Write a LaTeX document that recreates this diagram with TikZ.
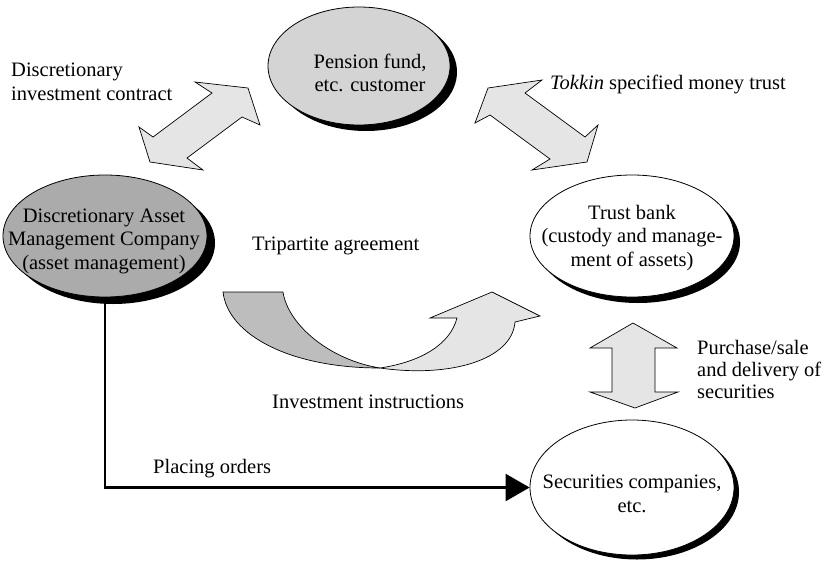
\documentclass[tikz,border=0pt]{standalone}
\usepackage{fontspec}
\setmainfont{Liberation Serif}
\usetikzlibrary{shapes.geometric,arrows.meta}
\definecolor{arrowfill}{gray}{0.90}
\definecolor{darkpart}{gray}{0.74}
\definecolor{pfill}{gray}{0.83}
\definecolor{dfill}{gray}{0.67}
\tikzset{
  ell/.style={ellipse, draw=black, line width=0.8pt, inner sep=0pt},
  shadowell/.style={ellipse, fill=black, draw=none, inner sep=0pt},
  lbl/.style={inner sep=0pt, font=\fontsize{20.5}{23.5}\selectfont},
  blockarrow/.style={draw=black, line width=0.7pt, fill=arrowfill, line join=miter},
  orderline/.style={line width=2.4pt, -{Triangle[length=24pt,width=27pt]}},
}
\begin{document}
\begin{tikzpicture}[x=1pt,y=-1pt]
\useasboundingbox (0,0) rectangle (826,562);
% shadows
\node[shadowell, minimum width=182pt, minimum height=118pt] at (366,72) {};
\node[shadowell, minimum width=204pt, minimum height=122pt] at (113,243) {};
\node[shadowell, minimum width=204pt, minimum height=122pt] at (638,242) {};
\node[shadowell, minimum width=204pt, minimum height=135pt] at (637,492) {};
% ellipses
\node[ell, fill=pfill, minimum width=182pt, minimum height=118pt] (pf) at (359,66) {};
\node[ell, fill=dfill, minimum width=204pt, minimum height=122pt] (dam) at (105,236) {};
\node[ell, fill=white, minimum width=204pt, minimum height=122pt] (tb) at (632,236) {};
\node[ell, fill=white, minimum width=204pt, minimum height=135pt] (sec) at (632,487.5) {};
% block arrows
\draw[blockarrow] (195,82) -- (248,88) -- (260,125) -- (242,117) -- (187,158) -- (203,170)
  -- (150,162) -- (139,127) -- (153,137) -- (212,93) -- cycle;
\draw[blockarrow] (542,80) -- (525,93) -- (585,137) -- (598,125) -- (587,162) -- (532,170)
  -- (550,159) -- (490,115) -- (475,123) -- (488,88) -- cycle;
\draw[blockarrow] (633,323) -- (677,348) -- (655,348) -- (655,392) -- (678,392) -- (635,408)
  -- (590,392) -- (612,392) -- (612,348) -- (590,348) -- cycle;
% curved arrow
\draw[blockarrow, fill=darkpart] (223,292) -- (283,292) .. controls (288,325) and (330,360) .. (380,368)
  .. controls (290,368) and (228,335) .. (223,292) -- cycle;
\draw[blockarrow] (380,368) .. controls (420,362) and (450,345) .. (457,318) -- (430,318) -- (492,292)
  -- (540,316) -- (515,322) .. controls (512,360) and (450,378) .. (380,368) -- cycle;
% connector
\draw[orderline] (dam.south) -- (dam.south |- sec.west) -- (sec.west);
% texts
\node[lbl, align=center] (pft) at (370,73) {Pension fund,\\etc. customer};
\node[lbl, align=center] (damt) at (104,241) {Discretionary Asset\\Management Company\\(asset management)};
\node[lbl, align=center] (tbt) at (632,238) {Trust bank\\(custody and manage-\\ment of assets)};
\node[lbl, align=center] (sect) at (632,494) {Securities companies,\\etc.};
\node[lbl, align=left, anchor=west] (dict) at (11,82) {Discretionary\\investment contract};
\node[lbl, anchor=base west] (tok) at (550,89) {\textit{Tokkin} specified money trust};
\node[lbl, anchor=base west] (tri) at (252,250) {Tripartite agreement};
\node[lbl, anchor=base west] (inv) at (272,408) {Investment instructions};
\node[lbl, align=left, anchor=west, font=\fontsize{20.5}{22}\selectfont] (pur) at (697,369) {Purchase/sale\\and delivery of\\securities};
\node[lbl, anchor=base west] (plo) at (153,473) {Placing orders};
\end{tikzpicture}
\end{document}
